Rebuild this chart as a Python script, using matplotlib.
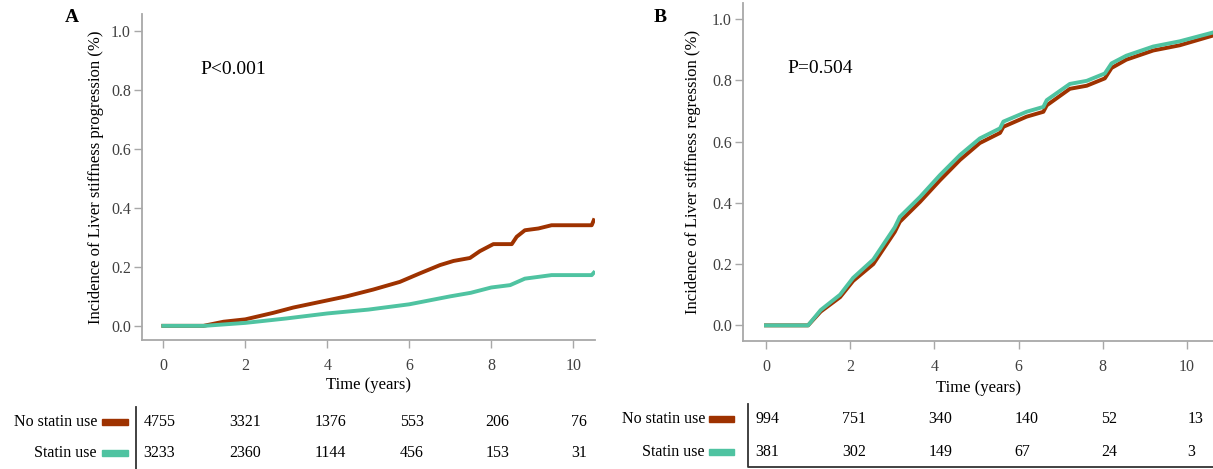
import matplotlib
matplotlib.use("Agg")
import matplotlib.pyplot as plt
from matplotlib.patches import Rectangle
from matplotlib.lines import Line2D

plt.rcParams['font.family'] = ['Liberation Serif', 'DejaVu Serif']

# Colors
NO_STATIN_COLOR = "#9e3200"
STATIN_COLOR = "#4fc3a1"
SPINE_COLOR = "#a8a8a8"

W, H = 1213, 469

# Panel A - progression
a_no_t = [0, 0.98, 1.47, 2, 2.68, 3.17, 3.82, 4.47, 5.12, 5.77, 6.26, 6.75, 7.08,
          7.48, 7.72, 8.05, 8.5, 8.62, 8.82, 9.15, 9.47, 10.45, 10.5]
a_no_y = [0, 0, 0.014, 0.022, 0.044, 0.062, 0.081, 0.10, 0.123, 0.149, 0.178, 0.206, 0.22,
          0.23, 0.253, 0.277, 0.277, 0.302, 0.324, 0.33, 0.341, 0.341, 0.358]
a_st_t = [0, 1.0, 2, 3, 4, 5, 6, 7, 7.5, 8.0, 8.46, 8.82, 9.15, 9.47, 10.45, 10.5]
a_st_y = [0, 0, 0.01, 0.025, 0.042, 0.055, 0.073, 0.10, 0.112, 0.13, 0.138, 0.16, 0.166,
          0.172, 0.172, 0.18]

# Panel B - regression
b_t = [0, 1.0, 1.3, 1.76, 2.07, 2.55, 3.06, 3.18, 3.66, 4.13, 4.61, 5.08, 5.56, 5.64,
       6.19, 6.59, 6.67, 7.22, 7.62, 8.05, 8.21, 8.56, 9.2, 9.83, 10.6]
b_st_y = [0, 0, 0.05, 0.10, 0.155, 0.215, 0.32, 0.354, 0.419, 0.49, 0.556, 0.61, 0.643,
          0.665, 0.697, 0.713, 0.735, 0.788, 0.798, 0.822, 0.855, 0.88, 0.91, 0.927, 0.955]
b_no_y = [0, 0, 0.045, 0.092, 0.145, 0.2, 0.305, 0.338, 0.403, 0.473, 0.54, 0.595, 0.628,
          0.648, 0.681, 0.697, 0.718, 0.772, 0.782, 0.806, 0.84, 0.867, 0.897, 0.914, 0.945]

# Numbers at risk
a_no_risk = [4755, 3321, 1376, 553, 206, 76]
a_st_risk = [3233, 2360, 1144, 456, 153, 31]
b_no_risk = [994, 751, 340, 140, 52, 13]
b_st_risk = [381, 302, 149, 67, 24, 3]

x_ticks = [0, 2, 4, 6, 8, 10]
y_ticks = [0.0, 0.2, 0.4, 0.6, 0.8, 1.0]


def fx(px):
    return px / W


def fy(py):
    return 1 - py / H


def style_axis(ax, xlim, ylim, ylabel, label_x, xlabel_y):
    ax.set_xlim(*xlim)
    ax.set_ylim(*ylim)
    ax.set_xticks(x_ticks)
    ax.set_yticks(y_ticks)
    ax.set_yticklabels(["%.1f" % v for v in y_ticks])
    for s in ["top", "right"]:
        ax.spines[s].set_visible(False)
    for s in ["left", "bottom"]:
        ax.spines[s].set_color(SPINE_COLOR)
        ax.spines[s].set_linewidth(1.3)
    ax.tick_params(direction="out", length=6, width=1, color=SPINE_COLOR,
                   labelsize=11.5, labelcolor="#404040")
    ax.tick_params(axis="y", pad=2)
    ax.tick_params(axis="x", pad=7)
    ax.set_xlabel("Time (years)", fontsize=12)
    ax.set_ylabel(ylabel, fontsize=12)
    ax.xaxis.set_label_coords(0.5, xlabel_y)
    ax.yaxis.set_label_coords(label_x, 0.5)


def risk_table(fig, no_vals, st_vals, x0, dx, rows, label_right, patch_x, patch_w):
    labels = ["No statin use", "Statin use"]
    colors = [NO_STATIN_COLOR, STATIN_COLOR]
    for row_y, label, color, vals in zip(rows, labels, colors, [no_vals, st_vals]):
        fig.text(fx(label_right), fy(row_y), label, ha="right", va="center", fontsize=11.5)
        fig.add_artist(Rectangle((fx(patch_x), fy(row_y + 3)), fx(patch_w), 6 / H,
                                 transform=fig.transFigure, color=color))
        for i, v in enumerate(vals):
            fig.text(fx(x0 + i * dx), fy(row_y), str(v), ha="left", va="center", fontsize=11.5)


def main():
    fig = plt.figure(figsize=(W / 100, H / 100), dpi=100)

    ax_a = fig.add_axes([fx(142), fy(340), fx(595 - 142), (340 - 14) / H])
    ax_a.plot(a_no_t, a_no_y, color=NO_STATIN_COLOR, lw=2.8)
    ax_a.plot(a_st_t, a_st_y, color=STATIN_COLOR, lw=2.8)
    style_axis(ax_a, (-0.52, 10.53), (-0.048, 1.057),
               "Incidence of Liver stiffness progression (%)", -0.084, -0.113)
    ax_a.text(0.9, 0.868, "P<0.001", fontsize=14, va="center")

    ax_b = fig.add_axes([fx(743), fy(341), fx(1213 - 743), (341 - 3) / H])
    ax_b.plot(b_t, b_no_y, color=NO_STATIN_COLOR, lw=2.8)
    ax_b.plot(b_t, b_st_y, color=STATIN_COLOR, lw=2.8)
    style_axis(ax_b, (-0.546, 10.62), (-0.051, 1.052),
               "Incidence of Liver stiffness regression (%)", -0.089, -0.115)
    ax_b.text(0.51, 0.837, "P=0.504", fontsize=14, va="center")

    fig.text(fx(72), fy(18), "A", fontsize=14, fontweight="bold", ha="center", va="center")
    fig.text(fx(660), fy(18), "B", fontsize=14, fontweight="bold", ha="center", va="center")

    # numbers at risk
    risk_table(fig, a_no_risk, a_st_risk, 143.7, 85.5, [421.7, 453.3], 97, 101.6, 26.4)
    risk_table(fig, b_no_risk, b_st_risk, 755.5, 86.4, [419.3, 451.7], 705, 708.6, 25)

    fig.add_artist(Line2D([fx(135.8), fx(135.8)], [fy(406.7), fy(469)],
                          transform=fig.transFigure, color="#333333", lw=1.3))
    fig.add_artist(Line2D([fx(747.7), fx(747.7), fx(1213)], [fy(404), fy(467.3), fy(467.3)],
                          transform=fig.transFigure, color="#333333", lw=1.3))

    fig.savefig("out.png", dpi=100)


if __name__ == "__main__":
    main()
